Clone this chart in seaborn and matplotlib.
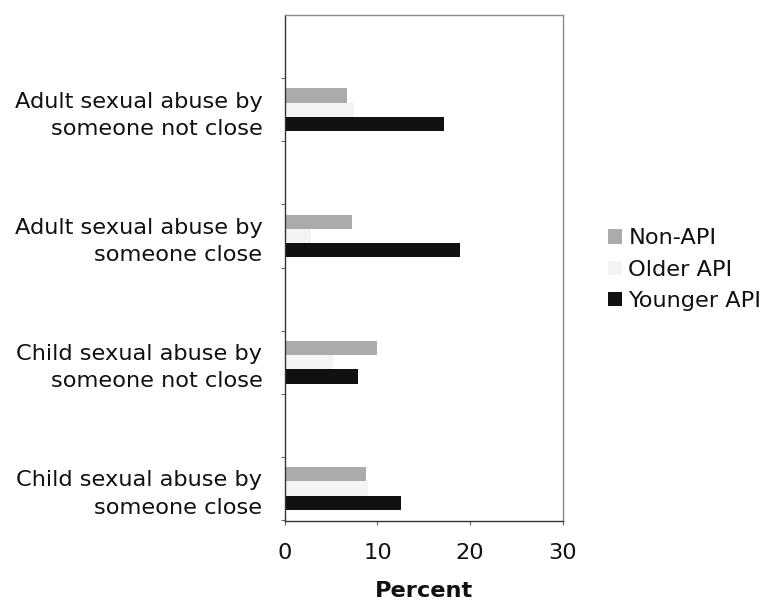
import matplotlib
matplotlib.use("Agg")
import matplotlib.pyplot as plt
import seaborn as sns
import pandas as pd

# Abuse categories, top to bottom
categories = [
    "Adult sexual abuse by\nsomeone not close",
    "Adult sexual abuse by\nsomeone close",
    "Child sexual abuse by\nsomeone not close",
    "Child sexual abuse by\nsomeone close",
]
groups = ["Non-API", "Older API", "Younger API"]

# Percent reporting each type of abuse
non_api = [6.7, 7.3, 9.9, 8.8]
older_api = [7.5, 2.8, 5.2, 9.0]
younger_api = [17.2, 18.9, 7.9, 12.5]

x_ticks = [0, 10, 20, 30]

df = pd.DataFrame({
    "category": categories * 3,
    "group": [g for g in groups for _ in categories],
    "percent": non_api + older_api + younger_api,
})

sns.set_theme(style="white")
plt.rcParams["font.family"] = ["DejaVu Sans"]
plt.rcParams["text.color"] = "#111111"
plt.rcParams["xtick.color"] = "#111111"
plt.rcParams["ytick.color"] = "#111111"
plt.rcParams["axes.labelcolor"] = "#111111"

FS = 16.2

fig = plt.figure(figsize=(7.74, 6.06), dpi=100)
ax = fig.add_axes([0.368, 0.140, 0.359, 0.835])

palette = {"Non-API": "#ababab", "Older API": "#f4f4f4", "Younger API": "#111111"}
sns.barplot(
    data=df, x="percent", y="category", hue="group", order=categories,
    hue_order=groups, palette=palette, orient="h", width=0.34, gap=0,
    saturation=1, ax=ax, legend=True,
)
for p in ax.patches:
    p.set_linewidth(0)

ax.set_xlim(0, 30)
ax.set_ylim(3.26, -0.75)
ax.set_xticks(x_ticks)
ax.set_xticklabels([str(t) for t in x_ticks], fontsize=FS)
ax.tick_params(axis="x", bottom=True, direction="out", length=3, width=0.8,
               color="#666666", pad=13)

# Category labels without tick marks; small ticks between groups
ax.set_yticks(range(len(categories)))
ax.set_yticklabels(categories, fontsize=FS, linespacing=1.45)
ax.tick_params(axis="y", which="major", left=True, length=0, pad=16)
ax.set_yticks([-0.25 + 0.5 * k for k in range(8)], minor=True)
ax.tick_params(axis="y", which="minor", left=True, direction="out", length=3,
               width=0.8, color="#666666")

ax.set_ylabel("")
ax.set_xlabel("Percent", fontsize=FS, fontweight="bold", labelpad=13)

for side in ["left", "bottom"]:
    ax.spines[side].set_color("#333333")
    ax.spines[side].set_linewidth(1.0)
for side in ["top", "right"]:
    ax.spines[side].set_color("#8a8a8a")
    ax.spines[side].set_linewidth(1.0)

handles, labels = ax.get_legend_handles_labels()
ax.get_legend().remove()
fig.legend(
    handles, labels, loc="center left", bbox_to_anchor=(0.774, 0.555),
    frameon=False, fontsize=FS, handlelength=0.6, handleheight=0.6,
    handletextpad=0.3, labelspacing=0.5, borderaxespad=0,
)

fig.savefig("out.png", dpi=100, facecolor="white")
